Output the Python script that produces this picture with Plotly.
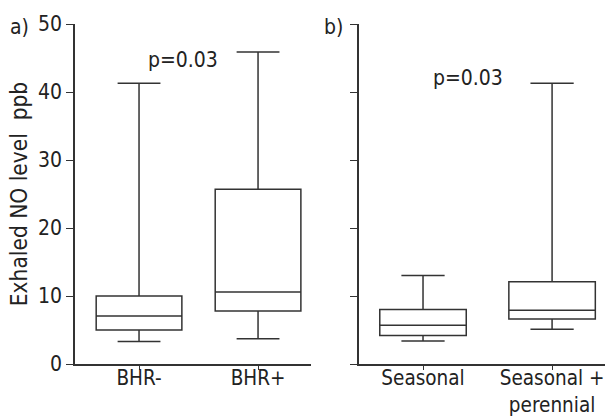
import plotly.graph_objects as go

# Panel a
cats_a = ["BHR-", "BHR+"]
q1_a = [5.0, 7.8]
med_a = [7.05, 10.6]
q3_a = [10.0, 25.7]
lo_a = [3.3, 3.7]
hi_a = [41.3, 45.9]

# Panel b
cats_b = ["Seasonal", "Seasonal +<br>perennial"]
q1_b = [4.2, 6.6]
med_b = [5.7, 7.9]
q3_b = [8.0, 12.1]
lo_b = [3.4, 5.1]
hi_b = [13.0, 41.3]

y_ticks = [0, 10, 20, 30, 40, 50]

FONT = "Liberation Sans Narrow, Arial Narrow, DejaVu Sans Condensed, sans-serif"
LC = "#333333"
TC = "#222222"

fig = go.Figure()
for i, c in enumerate(cats_a):
    fig.add_trace(go.Box(x=[c], q1=[q1_a[i]], median=[med_a[i]], q3=[q3_a[i]],
                         lowerfence=[lo_a[i]], upperfence=[hi_a[i]],
                         xaxis="x", yaxis="y", width=0.72, whiskerwidth=0.5,
                         line=dict(color=LC, width=1.5), fillcolor="white",
                         boxpoints=False, showlegend=False, hoverinfo="skip"))
for i, c in enumerate(cats_b):
    fig.add_trace(go.Box(x=[c], q1=[q1_b[i]], median=[med_b[i]], q3=[q3_b[i]],
                         lowerfence=[lo_b[i]], upperfence=[hi_b[i]],
                         xaxis="x2", yaxis="y2", width=0.67, whiskerwidth=0.5,
                         line=dict(color=LC, width=1.5), fillcolor="white",
                         boxpoints=False, showlegend=False, hoverinfo="skip"))

ydom = [56 / 420, 396 / 420]
common_x = dict(showline=True, linecolor=LC, linewidth=1.5, ticks="outside",
                ticklen=4, tickcolor=LC, showgrid=False, zeroline=False, automargin=False,
                ticklabelstandoff=-9,
                tickfont=dict(family=FONT, size=20.5, color=TC), type="category")
common_y = dict(range=[0, 50], tickvals=y_ticks, showline=True, linecolor=LC,
                linewidth=1.5, ticks="outside", ticklen=7, tickcolor=LC,
                showgrid=False, zeroline=False, domain=ydom, automargin=False,
                tickfont=dict(family=FONT, size=21, color=TC))

def px(x, y):
    return x / 605, 1 - y / 420

anns = []
for txt, (x, y) in [("a)", (19, 27)), ("b)", (333, 27)),
                    ("p=0.03", (183, 60)), ("p=0.03", (468, 78))]:
    ax, ay = px(x, y)
    anns.append(dict(text=txt, x=ax, y=ay, xref="paper", yref="paper",
                     xanchor="center", yanchor="middle", showarrow=False,
                     font=dict(family=FONT, size=21, color=TC)))

fig.update_layout(
    width=605, height=420, margin=dict(l=0, r=0, t=0, b=0),
    paper_bgcolor="white", plot_bgcolor="white",
    font=dict(family=FONT, color=TC),
    xaxis=dict(domain=[75 / 605, 311 / 605], range=[-0.538, 1.445], anchor="y", **common_x),
    xaxis2=dict(domain=[359 / 605, 1.0], range=[-0.496, 1.41], anchor="y2", **common_x),
    yaxis=dict(anchor="x", title=dict(text="Exhaled NO level  ppb",
               font=dict(family=FONT, size=22.5, color=TC), standoff=4), **common_y),
    yaxis2=dict(anchor="x2", showticklabels=False, **common_y),
    annotations=anns,
)

fig.write_html("out.html")
